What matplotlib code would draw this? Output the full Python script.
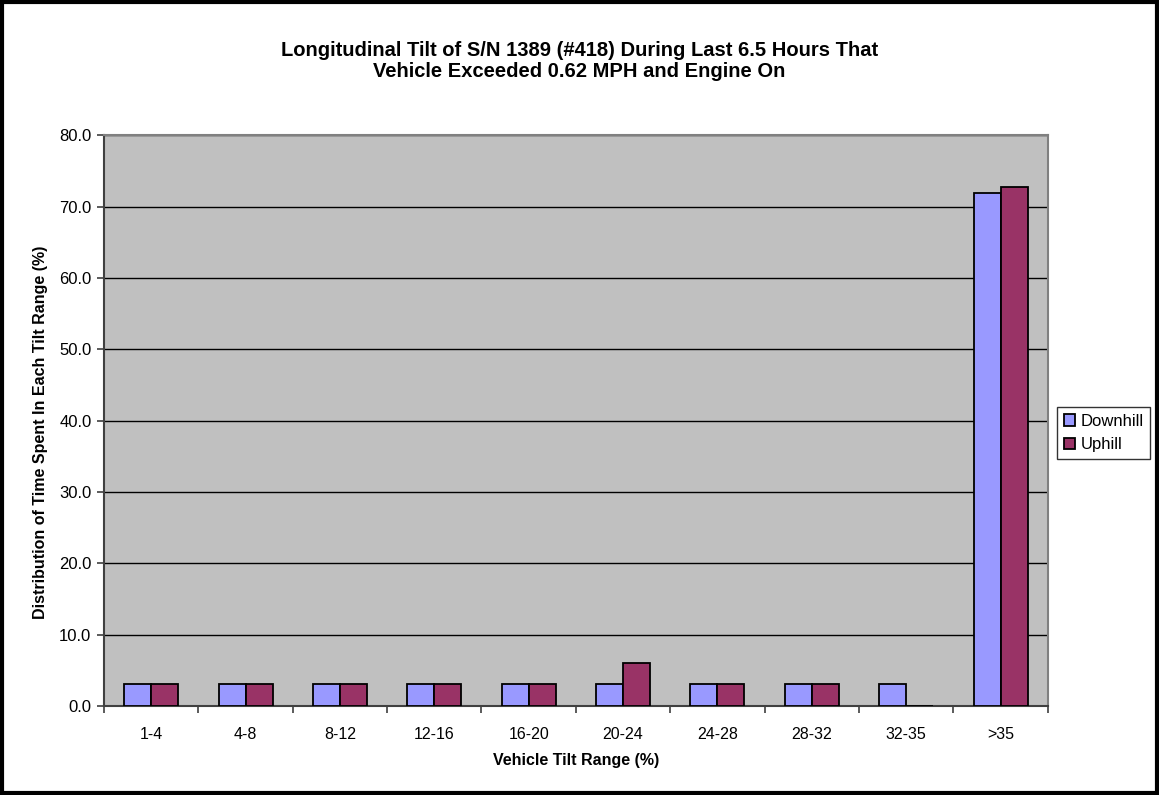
import matplotlib
matplotlib.use("Agg")
import matplotlib.pyplot as plt
import numpy as np

# Data
categories = ["1-4", "4-8", "8-12", "12-16", "16-20", "20-24", "24-28", "28-32", "32-35", ">35"]
downhill = [3.13, 3.13, 3.13, 3.13, 3.13, 3.13, 3.13, 3.13, 3.13, 71.9]
uphill = [3.03, 3.03, 3.03, 3.03, 3.03, 6.06, 3.03, 3.03, 0.0, 72.7]
y_ticks = [0, 10, 20, 30, 40, 50, 60, 70, 80]

plt.rcParams["font.family"] = ["Liberation Sans", "DejaVu Sans"]

fig = plt.figure(figsize=(11.59, 7.95), dpi=100)
fig.patch.set_facecolor("white")
# black frame around whole chart
fig.patches.append(plt.Rectangle((0.002, 0.003), 0.996, 0.994, transform=fig.transFigure,
                                 fill=False, edgecolor="black", linewidth=3))

ax = fig.add_axes([0.0897, 0.112, 0.8143, 0.718])
ax.set_facecolor("#C0C0C0")

x = np.arange(len(categories))
w = 0.286
ax.bar(x - w / 2, downhill, w, color="#9999FF", edgecolor="black", linewidth=1.3,
       label="Downhill", zorder=3)
ax.bar(x + w / 2, uphill, w, color="#993366", edgecolor="black", linewidth=1.3,
       label="Uphill", zorder=3)

ax.set_xlim(-0.5, len(categories) - 0.5)
ax.set_ylim(0, 80)
ax.set_yticks(y_ticks)
ax.set_yticklabels([f"{v:.1f}" for v in y_ticks], fontsize=12)
ax.yaxis.grid(True, color="black", linewidth=1.0, zorder=1)
ax.set_axisbelow(True)

ax.set_xticks(x)
ax.set_xticklabels(categories, fontsize=11.5)
ax.set_xticks(np.arange(len(categories) + 1) - 0.5, minor=True)
ax.tick_params(axis="x", which="major", length=0, pad=15)
ax.tick_params(axis="x", which="minor", length=5, width=1.2, color="#404040")
ax.tick_params(axis="y", length=5, width=1.2, color="#404040", pad=4)

for s in ["left", "bottom"]:
    ax.spines[s].set_color("#404040")
    ax.spines[s].set_linewidth(1.5)
for s in ["top", "right"]:
    ax.spines[s].set_color("#808080")
    ax.spines[s].set_linewidth(1.5)

ax.set_xlabel("Vehicle Tilt Range (%)", fontsize=11.5, fontweight="bold", labelpad=8)
ax.set_ylabel("Distribution of Time Spent In Each Tilt Range (%)", fontsize=11.5,
              fontweight="bold")
ax.yaxis.set_label_coords(-0.059, 0.48)

fig.text(0.5, 0.923, "Longitudinal Tilt of S/N 1389 (#418) During Last 6.5 Hours That\n"
         "Vehicle Exceeded 0.62 MPH and Engine On", ha="center", va="center",
         fontsize=14.5, fontweight="bold", linespacing=1.1)

leg = fig.legend(loc="center left", bbox_to_anchor=(0.912, 0.455), fontsize=12,
                 frameon=True, fancybox=False, edgecolor="black", handlelength=0.7,
                 handleheight=0.7, handletextpad=0.3, borderpad=0.4, labelspacing=0.5,
                 borderaxespad=0)
leg.get_frame().set_linewidth(1.0)

fig.savefig("out.png", dpi=100, facecolor="white")
